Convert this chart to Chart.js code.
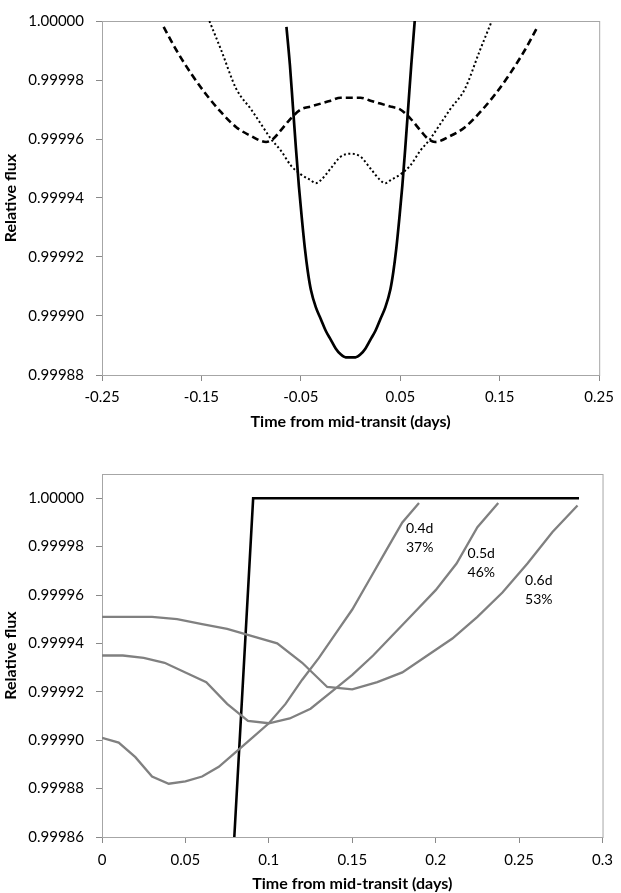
<!DOCTYPE html>
<html>
<head>
<meta charset="utf-8">
<script src="https://cdn.jsdelivr.net/npm/chart.js@4.4.0/dist/chart.umd.min.js"></script>
<style>
  body { margin: 0; background: #fff; }
  canvas { display: block; }
</style>
</head>
<body>
<canvas id="transit-full" width="621" height="440"></canvas>
<canvas id="transit-egress" width="621" height="453"></canvas>
<script>
// full transit, three light-curve models
const solidTime = [-0.0645, -0.061, -0.058, -0.055, -0.052, -0.049, -0.046, -0.043, -0.040, -0.035, -0.030, -0.025, -0.020, -0.015, -0.010, -0.005, 0,
    0.005, 0.010, 0.015, 0.020, 0.025, 0.030, 0.035, 0.040, 0.043, 0.046, 0.049, 0.052, 0.055, 0.058, 0.061, 0.0645];
const solidFlux = [0.999998, 0.999985, 0.999971, 0.999957, 0.999944, 0.999933, 0.999923, 0.999915, 0.999909, 0.999903, 0.999899, 0.999895, 0.999892, 0.999889, 0.999887, 0.999886, 0.999886,
    0.999886, 0.999887, 0.999889, 0.999892, 0.999895, 0.999899, 0.999903, 0.999909, 0.999915, 0.999923, 0.999933, 0.999944, 0.999957, 0.999971, 0.999985, 1.000000];

const dashedTime = [-0.188, -0.175, -0.160, -0.145, -0.130, -0.115, -0.100, -0.085, -0.078, -0.070, -0.060, -0.050, -0.040, -0.030, -0.020, -0.010, 0,
    0.010, 0.020, 0.030, 0.040, 0.050, 0.060, 0.070, 0.078, 0.085, 0.100, 0.115, 0.130, 0.145, 0.160, 0.175, 0.188];
const dashedFlux = [0.999998, 0.999990, 0.999982, 0.999975, 0.999969, 0.999964, 0.999961, 0.999959, 0.999960, 0.999963, 0.999967, 0.999970, 0.999971, 0.999972, 0.999973, 0.999974, 0.999974,
    0.999974, 0.999973, 0.999972, 0.999971, 0.999970, 0.999967, 0.999963, 0.999960, 0.999959, 0.999961, 0.999964, 0.999969, 0.999975, 0.999982, 0.999990, 0.999998];

const dottedTime = [-0.142, -0.130, -0.115, -0.100, -0.090, -0.080, -0.070, -0.060, -0.050, -0.040, -0.035, -0.030, -0.020, -0.010, 0,
    0.010, 0.020, 0.030, 0.035, 0.040, 0.050, 0.060, 0.070, 0.080, 0.090, 0.100, 0.115, 0.130, 0.142];
const dottedFlux = [1.000000, 0.999990, 0.999977, 0.999970, 0.999965, 0.999960, 0.999956, 0.999951, 0.999948, 0.999946, 0.999945, 0.999946, 0.999950, 0.999954, 0.999955,
    0.999954, 0.999950, 0.999946, 0.999945, 0.999946, 0.999948, 0.999951, 0.999956, 0.999960, 0.999965, 0.999970, 0.999977, 0.999990, 1.000000];

const fullXTicks = [-0.25, -0.15, -0.05, 0.05, 0.15, 0.25];
const fullYTicks = [0.99988, 0.99990, 0.99992, 0.99994, 0.99996, 0.99998, 1.00000];

// egress only: box-shaped reference and three spot models
const boxTime = [0.0793, 0.0906, 0.2859];
const boxFlux = [0.99986, 1.00000, 1.00000];

const spot04Time = [0, 0.01, 0.02, 0.03, 0.04, 0.05, 0.06, 0.07, 0.08, 0.09, 0.10, 0.11, 0.12, 0.13, 0.14, 0.15, 0.16, 0.17, 0.18, 0.19];
const spot04Flux = [0.999901, 0.999899, 0.999893, 0.999885, 0.999882, 0.999883, 0.999885, 0.999889, 0.999895, 0.999901, 0.999907, 0.999915, 0.999925, 0.999934, 0.999944, 0.999954, 0.999966, 0.999978, 0.999990, 0.999998];

const spot05Time = [0, 0.0125, 0.025, 0.0375, 0.05, 0.0625, 0.075, 0.0875, 0.1, 0.1125, 0.125, 0.1375, 0.15, 0.1625, 0.175, 0.1875, 0.2, 0.2125, 0.225, 0.2375];
const spot05Flux = [0.999935, 0.999935, 0.999934, 0.999932, 0.999928, 0.999924, 0.999915, 0.999908, 0.999907, 0.999909, 0.999913, 0.999920, 0.999927, 0.999935, 0.999944, 0.999953, 0.999962, 0.999973, 0.999988, 0.999998];

const spot06Time = [0, 0.015, 0.03, 0.045, 0.06, 0.075, 0.09, 0.105, 0.12, 0.135, 0.15, 0.165, 0.18, 0.195, 0.21, 0.225, 0.24, 0.255, 0.27, 0.285];
const spot06Flux = [0.999951, 0.999951, 0.999951, 0.999950, 0.999948, 0.999946, 0.999943, 0.999940, 0.999932, 0.999922, 0.999921, 0.999924, 0.999928, 0.999935, 0.999942, 0.999951, 0.999961, 0.999973, 0.999986, 0.999997];

const egressXTicks = [0, 0.05, 0.1, 0.15, 0.2, 0.25, 0.3];
const egressYTicks = [0.99986, 0.99988, 0.99990, 0.99992, 0.99994, 0.99996, 0.99998, 1.00000];

const spotLabels = [['0.4d', '37%'], ['0.5d', '46%'], ['0.6d', '53%']];
const spotLabelAt = [[0.1822, 0.9999875], [0.2191, 0.9999770], [0.2536, 0.9999660]];

Chart.defaults.font.family = 'Lato';
Chart.defaults.color = '#000';
Chart.defaults.animation = false;

const axisGrey = '#898989';

function pairs(xs, ys) {
    return xs.map(function (x, i) { return {x: x, y: ys[i]}; });
}

function lineSet(xs, ys, color, width, dash, smooth) {
    return {
        data: pairs(xs, ys),
        borderColor: color,
        borderWidth: width,
        borderDash: dash || [],
        pointRadius: 0,
        tension: smooth ? 0.4 : 0,
        cubicInterpolationMode: smooth ? 'monotone' : 'default',
        fill: false
    };
}

// grey frame round the plot area
const plotFrame = {
    id: 'plotFrame',
    beforeDatasetsDraw: function (chart) {
        const a = chart.chartArea;
        const ctx = chart.ctx;
        ctx.save();
        ctx.strokeStyle = '#a6a6a6';
        ctx.lineWidth = 1;
        ctx.strokeRect(a.left + 0.5, a.top + 0.5, a.right - a.left, a.bottom - a.top);
        ctx.restore();
    }
};

// text next to the spot curves, placed in data units
const spotText = {
    id: 'spotText',
    afterDatasetsDraw: function (chart) {
        const ctx = chart.ctx;
        ctx.save();
        ctx.font = '14px Lato';
        ctx.fillStyle = '#000';
        ctx.textAlign = 'left';
        ctx.textBaseline = 'middle';
        for (let i = 0; i < spotLabels.length; i++) {
            const px = chart.scales.x.getPixelForValue(spotLabelAt[i][0]);
            const py = chart.scales.y.getPixelForValue(spotLabelAt[i][1]);
            ctx.fillText(spotLabels[i][0], px, py);
            ctx.fillText(spotLabels[i][1], px, py + 19);
        }
        ctx.restore();
    }
};

function makeScales(xMin, xMax, xTicks, yMin, yMax, yTicks, xHeight, xLabelFmt) {
    return {
        x: {
            type: 'linear',
            min: xMin,
            max: xMax,
            afterBuildTicks: function (s) { s.ticks = xTicks.map(function (v) { return {value: v}; }); },
            afterFit: function (s) { s.height = xHeight; },
            border: {color: axisGrey, width: 1},
            grid: {drawOnChartArea: false, drawTicks: true, tickLength: 6, color: axisGrey},
            ticks: {font: {size: 15}, padding: 7, maxRotation: 0, callback: xLabelFmt},
            title: {display: true, text: 'Time from mid-transit (days)', font: {size: 16, weight: 'bold'}, padding: {top: 0, bottom: 9}}
        },
        y: {
            min: yMin,
            max: yMax,
            afterBuildTicks: function (s) { s.ticks = yTicks.map(function (v) { return {value: v}; }); },
            afterFit: function (s) { s.width = 102; },
            border: {color: axisGrey, width: 1},
            grid: {drawOnChartArea: false, drawTicks: true, tickLength: 6, color: axisGrey},
            ticks: {font: {size: 15}, padding: 12, callback: function (v) { return v.toFixed(5); }},
            title: {display: true, text: 'Relative flux', font: {size: 16, weight: 'bold'}, padding: {top: 1, bottom: 0}}
        }
    };
}

const noLegend = {legend: {display: false}, tooltip: {enabled: false}};

new Chart(document.getElementById('transit-full'), {
    type: 'line',
    data: {
        datasets: [
            lineSet(dottedTime, dottedFlux, '#000', 2, [2, 2.5], true),
            lineSet(dashedTime, dashedFlux, '#000', 2.6, [7, 4], true),
            lineSet(solidTime, solidFlux, '#000', 2.7, null, true)
        ]
    },
    options: {
        responsive: false,
        events: [],
        layout: {padding: {top: 12, right: 17, bottom: 0, left: 0}},
        plugins: noLegend,
        scales: makeScales(-0.25, 0.25, fullXTicks, 0.99988, 1.00000, fullYTicks, 65,
            function (v) { return v.toFixed(2); })
    },
    plugins: [plotFrame]
});

const egressScales = makeScales(0, 0.3, egressXTicks, 0.99986, 1.00001, egressYTicks, 56,
    function (v) { return String(+v.toFixed(3)); });
egressScales.x.ticks.padding = 8;
egressScales.x.title.padding = {top: 0, bottom: 0};

new Chart(document.getElementById('transit-egress'), {
    type: 'line',
    data: {
        datasets: [
            lineSet(spot04Time, spot04Flux, '#808080', 2.3),
            lineSet(spot05Time, spot05Flux, '#808080', 2.3),
            lineSet(spot06Time, spot06Flux, '#808080', 2.3),
            lineSet(boxTime, boxFlux, '#000', 2.6)
        ]
    },
    options: {
        responsive: false,
        events: [],
        layout: {padding: {top: 34, right: 15, bottom: 0, left: 0}},
        plugins: noLegend,
        scales: egressScales
    },
    plugins: [plotFrame, spotText]
});
</script>
</body>
</html>
